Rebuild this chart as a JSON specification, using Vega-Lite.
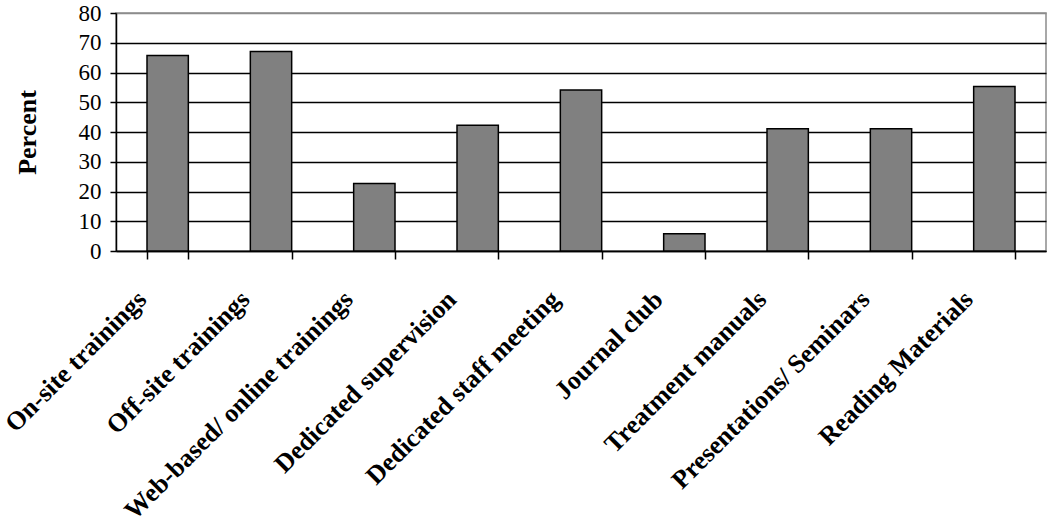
{
  "$schema": "https://vega.github.io/schema/vega-lite/v6.json",
  "width": 930,
  "height": 238,
  "autosize": "none",
  "padding": {"left": 116, "top": 13, "right": 4, "bottom": 278},
  "background": "white",
  "config": {"view": {"stroke": "#8c8c8c", "strokeWidth": 1.5}, "font": "Liberation Serif"},
  "data": {"values": [
    {"category": "On-site trainings", "percent": 65.7},
    {"category": "Off-site trainings", "percent": 67.1},
    {"category": "Web-based/ online trainings", "percent": 22.7},
    {"category": "Dedicated supervision", "percent": 42.3},
    {"category": "Dedicated staff meeting", "percent": 54.1},
    {"category": "Journal club", "percent": 5.8},
    {"category": "Treatment manuals", "percent": 41.1},
    {"category": "Presentations/ Seminars", "percent": 41.1},
    {"category": "Reading Materials", "percent": 55.3}
  ]},
  "mark": {"type": "bar", "fill": "#808080", "stroke": "black", "strokeWidth": 1.5},
  "encoding": {
    "x": {
      "field": "category", "type": "nominal", "sort": null,
      "scale": {"paddingInner": 0.6, "paddingOuter": 0.3},
      "axis": {
        "title": null, "labelAngle": -45, "labelAlign": "right", "labelBaseline": "middle",
        "labelFont": "Liberation Serif", "labelFontWeight": "bold", "labelFontSize": 26,
        "labelColor": "black", "labelOffset": -26, "labelPadding": 36, "labelLimit": 0,
        "tickBand": "extent", "tickSize": 8, "tickColor": "black", "tickWidth": 1.5,
        "domainColor": "black", "domainWidth": 1.5, "grid": false
      }
    },
    "y": {
      "field": "percent", "type": "quantitative",
      "scale": {"domain": [0, 80], "nice": false},
      "axis": {
        "title": "Percent", "titleFont": "Liberation Serif", "titleFontSize": 26,
        "titleFontWeight": "bold", "titleColor": "black",
        "titleX": -81, "titleY": 119, "titleAngle": -90, "titleAlign": "center", "titleBaseline": "alphabetic",
        "values": [0, 10, 20, 30, 40, 50, 60, 70, 80],
        "grid": true,
        "gridColor": {"condition": {"test": "datum.value === 80", "value": "#8c8c8c"}, "value": "black"},
        "gridWidth": 1.5,
        "labelFont": "Liberation Serif", "labelFontSize": 23, "labelColor": "black", "labelPadding": 9,
        "tickSize": 6, "tickColor": "black", "tickWidth": 1.5,
        "domainColor": "black", "domainWidth": 1.5
      }
    }
  }
}
